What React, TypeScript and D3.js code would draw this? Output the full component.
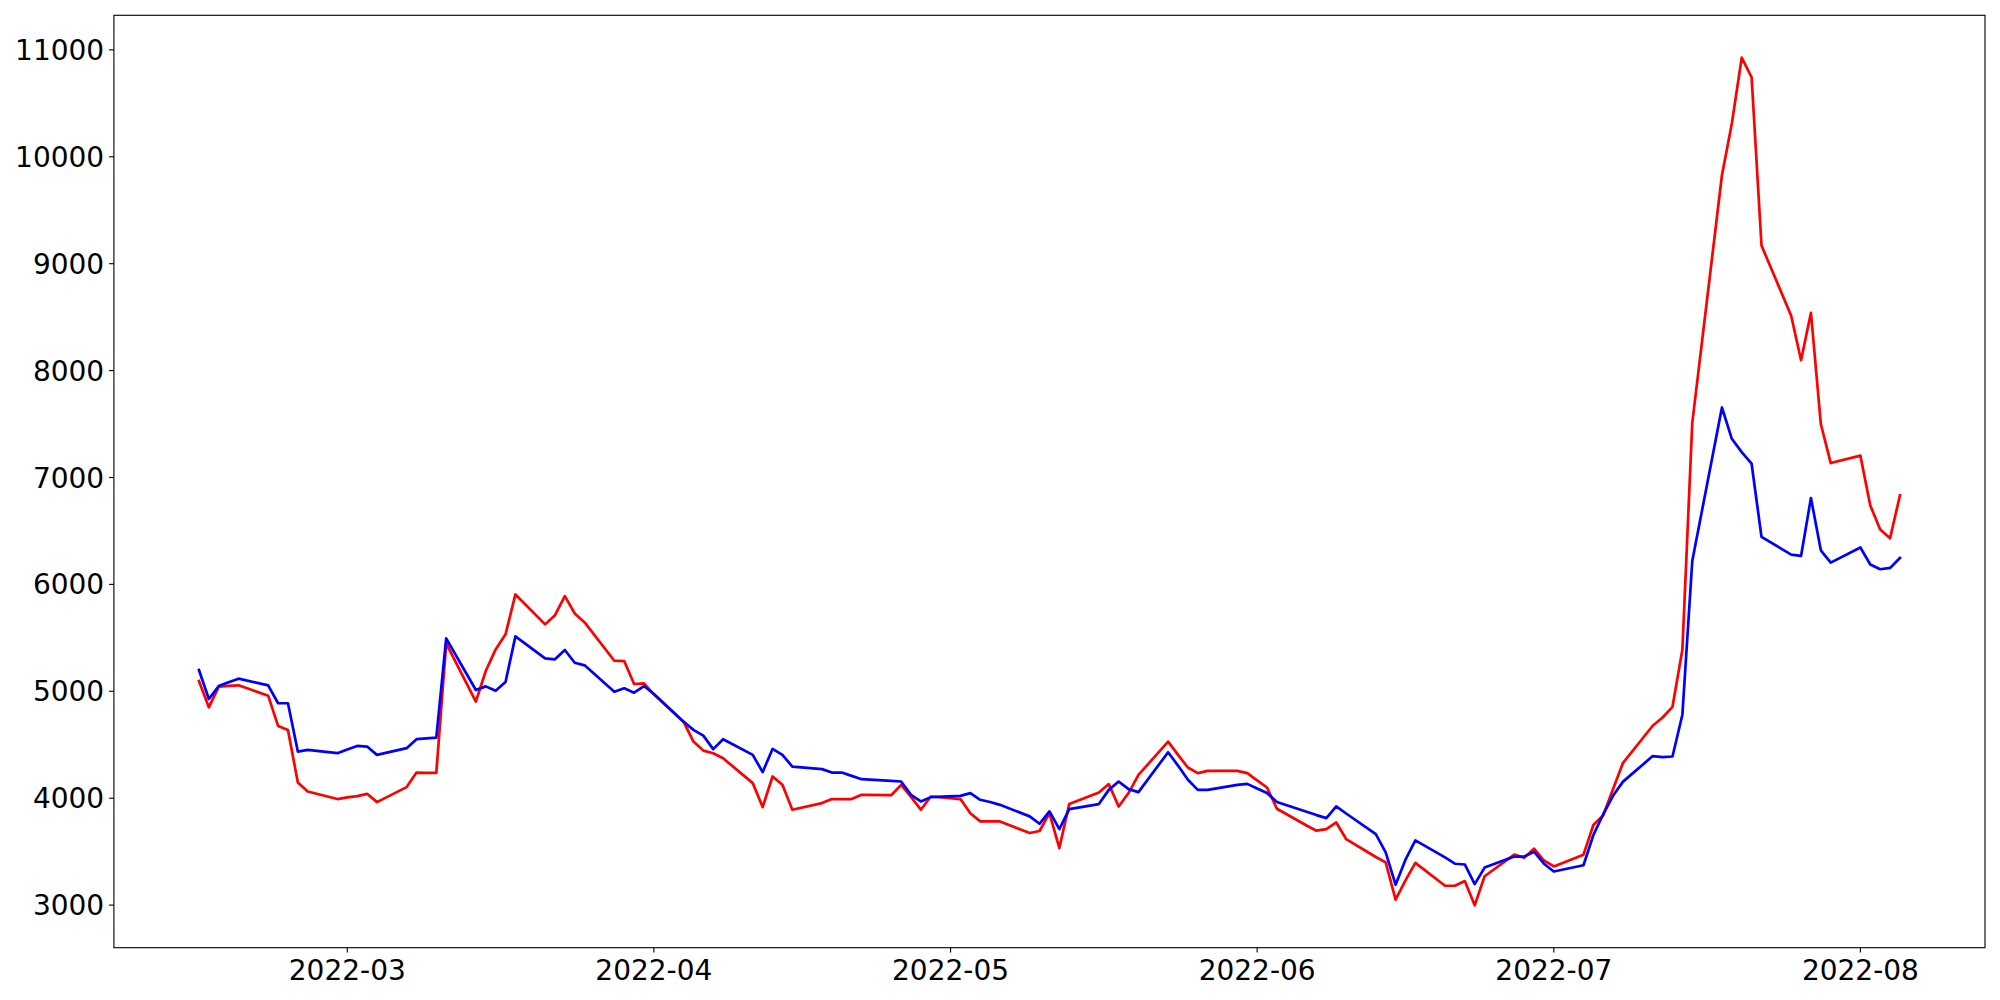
import React from "react";
import * as d3 from "d3";

// Trading days (weekdays) shown on the x axis
const dates: string[] = [
  "2022-02-14","2022-02-15","2022-02-16","2022-02-17","2022-02-18","2022-02-21","2022-02-22","2022-02-23","2022-02-24","2022-02-25","2022-02-28",
  "2022-03-01","2022-03-02","2022-03-03","2022-03-04","2022-03-07","2022-03-08","2022-03-09","2022-03-10","2022-03-11","2022-03-14","2022-03-15","2022-03-16","2022-03-17","2022-03-18","2022-03-21","2022-03-22","2022-03-23","2022-03-24","2022-03-25","2022-03-28","2022-03-29","2022-03-30","2022-03-31",
  "2022-04-01","2022-04-04","2022-04-05","2022-04-06","2022-04-07","2022-04-08","2022-04-11","2022-04-12","2022-04-13","2022-04-14","2022-04-15","2022-04-18","2022-04-19","2022-04-20","2022-04-21","2022-04-22","2022-04-25","2022-04-26","2022-04-27","2022-04-28","2022-04-29",
  "2022-05-02","2022-05-03","2022-05-04","2022-05-05","2022-05-06","2022-05-09","2022-05-10","2022-05-11","2022-05-12","2022-05-13","2022-05-16","2022-05-17","2022-05-18","2022-05-19","2022-05-20","2022-05-23","2022-05-24","2022-05-25","2022-05-26","2022-05-27","2022-05-30","2022-05-31",
  "2022-06-01","2022-06-02","2022-06-03","2022-06-06","2022-06-07","2022-06-08","2022-06-09","2022-06-10","2022-06-13","2022-06-14","2022-06-15","2022-06-16","2022-06-17","2022-06-20","2022-06-21","2022-06-22","2022-06-23","2022-06-24","2022-06-27","2022-06-28","2022-06-29","2022-06-30",
  "2022-07-01","2022-07-04","2022-07-05","2022-07-06","2022-07-07","2022-07-08","2022-07-11","2022-07-12","2022-07-13","2022-07-14","2022-07-15","2022-07-18","2022-07-19","2022-07-20","2022-07-21","2022-07-22","2022-07-25","2022-07-26","2022-07-27","2022-07-28","2022-07-29",
  "2022-08-01","2022-08-02","2022-08-03","2022-08-04","2022-08-05",
];

// Red series
const redValues: number[] = [
  5096, 4850, 5043, 5050, 5056, 4959, 4676, 4639, 4147, 4063, 3992,
  4007, 4020, 4041, 3963, 4104, 4240, 4237, 4237, 5448, 4903, 5190, 5392, 5533, 5906, 5626, 5712, 5890, 5728, 5644, 5286, 5283, 5068, 5075,
  4972, 4716, 4530, 4445, 4421, 4374, 4141, 3917, 4203, 4125, 3892, 3954, 3992, 3992, 3992, 4032, 4028, 4125, 4013, 3892, 4016,
  3992, 3860, 3783, 3783, 3783, 3674, 3693, 3861, 3534, 3945, 4053, 4132, 3922, 4048, 4218, 4529, 4405, 4287, 4234, 4256, 4256, 4234,
  4166, 4100, 3901, 3745, 3696, 3711, 3773, 3618, 3450, 3400, 3051, 3232, 3395, 3181, 3181, 3225, 2998, 3270, 3472, 3443, 3528, 3417,
  3362, 3472, 3749, 3841, 4088, 4331, 4678, 4755, 4855, 5390, 7511, 9827, 10311, 10927, 10744, 9170, 8513, 8097, 8541, 7500, 7135,
  7204, 6739, 6513, 6431, 6833,
];

// Blue series
const blueValues: number[] = [
  5199, 4928, 5049, 5085, 5118, 5056, 4888, 4888, 4436, 4452, 4421,
  4455, 4489, 4483, 4405, 4468, 4552, 4560, 4567, 5495, 5012, 5046, 5005, 5087, 5514, 5308, 5299, 5386, 5267, 5243, 4996, 5028, 4987, 5049,
  4975, 4716, 4639, 4585, 4459, 4552, 4405, 4244, 4461, 4405, 4296, 4272, 4240, 4240, 4209, 4178, 4162, 4156, 4032, 3970, 4010,
  4022, 4047, 3985, 3964, 3938, 3830, 3761, 3876, 3711, 3898, 3945, 4078, 4156, 4085, 4057, 4430, 4305, 4172, 4078, 4078, 4125, 4134,
  4090, 4048, 3964, 3873, 3842, 3814, 3924, 3857, 3664, 3493, 3191, 3425, 3605, 3446, 3387, 3380, 3196, 3351, 3454, 3454, 3499, 3387,
  3314, 3373, 3656, 3850, 4025, 4155, 4394, 4385, 4390, 4781, 6219, 7655, 7362, 7237, 7129, 6444, 6279, 6266, 6808, 6319, 6204,
  6345, 6186, 6142, 6154, 6247,
];

const xTickLabels: string[] = ["2022-03", "2022-04", "2022-05", "2022-06", "2022-07", "2022-08"];
const yTicks: number[] = [3000, 4000, 5000, 6000, 7000, 8000, 9000, 10000, 11000];

const W = 2000;
const H = 1000;
const LEFT = 113.9;
const RIGHT = 1985;
const TOP = 15.3;
const BOTTOM = 947.7;
const FONT = "'DejaVu Sans', sans-serif";
const FS = 28;
const TICK = 4.86;
const LW = 2.7;

export default function App() {
  const parse = d3.utcParse("%Y-%m-%d");
  const t = dates.map((d) => parse(d) as Date);
  const t0 = +t[0];
  const t1 = +t[t.length - 1];
  const xPad = (t1 - t0) * 0.05;
  const x = d3
    .scaleUtc()
    .domain([new Date(t0 - xPad), new Date(t1 + xPad)])
    .range([LEFT, RIGHT]);

  const all = redValues.concat(blueValues);
  const [mn, mx] = d3.extent(all) as [number, number];
  const yPad = (mx - mn) * 0.05;
  const y = d3.scaleLinear().domain([mn - yPad, mx + yPad]).range([BOTTOM, TOP]);

  const line = d3
    .line<number>()
    .x((_, i) => x(t[i]))
    .y((d) => y(d));

  return (
    <svg
      width={W}
      height={H}
      style={{ position: "absolute", left: 0, top: 0, background: "#fff" }}
      xmlns="http://www.w3.org/2000/svg"
    >
      <rect x={0} y={0} width={W} height={H} fill="#fff" />
      <path d={line(redValues) || ""} fill="none" stroke="#ff0000" strokeWidth={LW} strokeLinejoin="round" strokeLinecap="square" />
      <path d={line(blueValues) || ""} fill="none" stroke="#0000ff" strokeWidth={LW} strokeLinejoin="round" strokeLinecap="square" />
      <rect x={LEFT} y={TOP} width={RIGHT - LEFT} height={BOTTOM - TOP} fill="none" stroke="#000" strokeWidth={1.11} />
      {yTicks.map((v) => (
        <g key={v}>
          <line x1={LEFT - TICK} x2={LEFT} y1={y(v)} y2={y(v)} stroke="#000" strokeWidth={1.11} />
          <text
            x={LEFT - TICK - 4.86}
            y={y(v) + 10.1}
            textAnchor="end"
            fontFamily={FONT}
            fontSize={FS}
            fill="#000"
          >
            {v}
          </text>
        </g>
      ))}
      {xTickLabels.map((lab) => {
        const xv = x(parse(lab + "-01") as Date);
        return (
          <g key={lab}>
            <line x1={xv} x2={xv} y1={BOTTOM} y2={BOTTOM + TICK} stroke="#000" strokeWidth={1.11} />
            <text x={xv} y={980} textAnchor="middle" fontFamily={FONT} fontSize={FS} fill="#000">
              {lab}
            </text>
          </g>
        );
      })}
    </svg>
  );
}
